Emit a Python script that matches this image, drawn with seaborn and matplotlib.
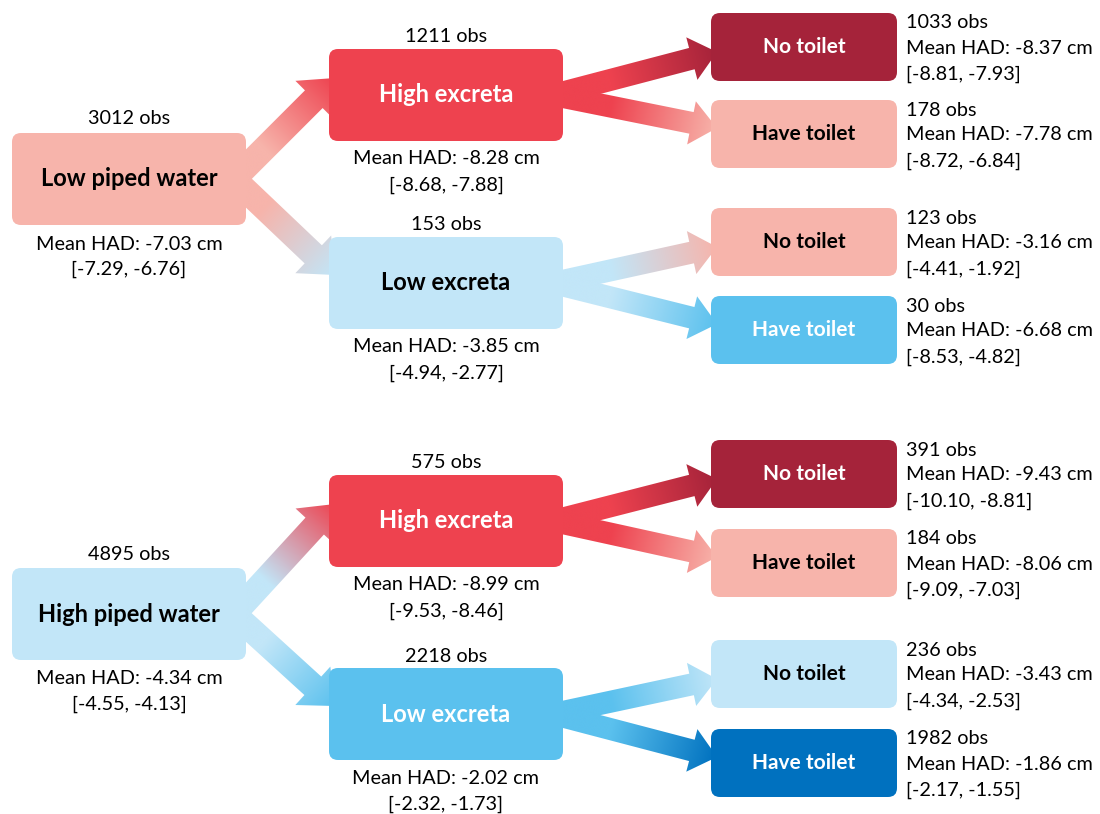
import numpy as np
import matplotlib
matplotlib.use('Agg')
import matplotlib.pyplot as plt
from matplotlib.patches import FancyBboxPatch, Polygon
from matplotlib.colors import LinearSegmentedColormap
import seaborn as sns

sns.set_theme(style='white')
plt.rcParams['font.family'] = ['Lato', 'DejaVu Sans']
plt.rcParams['text.color'] = 'black'

# ── Data ──────────────────────────────────────────────────────────────────────
root_names = ['Low piped water', 'High piped water']
root_obs = [3012, 4895]
root_mean = [-7.03, -4.34]
root_ci_low = [-7.29, -4.55]
root_ci_high = [-6.76, -4.13]

mid_names = ['High excreta', 'Low excreta']
mid_obs = [[1211, 153], [575, 2218]]
mid_mean = [[-8.28, -3.85], [-8.99, -2.02]]
mid_ci_low = [[-8.68, -4.94], [-9.53, -2.32]]
mid_ci_high = [[-7.88, -2.77], [-8.46, -1.73]]

leaf_names = ['No toilet', 'Have toilet']
leaf_obs = [[[1033, 178], [123, 30]], [[391, 184], [236, 1982]]]
leaf_mean = [[[-8.37, -7.78], [-3.16, -6.68]], [[-9.43, -8.06], [-3.43, -1.86]]]
leaf_ci_low = [[[-8.81, -8.72], [-4.41, -8.53]], [[-10.10, -9.09], [-4.34, -2.17]]]
leaf_ci_high = [[[-7.93, -6.84], [-1.92, -4.82]], [[-8.81, -7.03], [-2.53, -1.55]]]

# colour class of every node
root_cls = ['pink', 'lblue']
mid_cls = [['red', 'lblue'], ['red', 'mblue']]
leaf_cls = [[['dred', 'pink'], ['pink', 'mblue']], [['dred', 'pink'], ['lblue', 'dblue']]]

# ── Style ─────────────────────────────────────────────────────────────────────
COL = {'pink': '#F7B4AB', 'red': '#EE424F', 'dred': '#A5233A',
       'lblue': '#C2E6F8', 'mblue': '#5BC1EE', 'dblue': '#0071BF'}
TXT = {'pink': 'black', 'lblue': 'black', 'red': 'white', 'dred': 'white',
       'mblue': 'white', 'dblue': 'white'}

# layout in pixel units (y grows downward)
X_ROOT, X_MID, X_LEAF = 129, 446, 804
W_ROOT, H_ROOT = 234, 92
W_MID, H_MID = 234, 92
W_LEAF, H_LEAF = 186, 68
Y_ROOT = [179, 614]
Y_MID = [[95, 283], [521, 714]]
Y_LEAF = [[[47, 134], [242, 330]], [[474, 563], [674, 763]]]

FS_NUM = 14.3
FS_BOX = 17
FS_LEAF = 15


def box(ax, cx, cy, w, h, cls):
    ax.add_patch(FancyBboxPatch((cx - w / 2, cy - h / 2), w, h,
                                boxstyle='round,pad=0,rounding_size=9',
                                fc=COL[cls], ec='none', zorder=5))


def grad_arrow(ax, p0, p1, c0, c1, w, hw, hl, start=0.3):
    p0 = np.array(p0, float); p1 = np.array(p1, float)
    d = p1 - p0; L = np.hypot(*d); u = d / L; n = np.array([-u[1], u[0]])
    b = p1 - u * hl
    pts = [p0 + n * w / 2, b + n * w / 2, b + n * hw / 2, p1,
           b - n * hw / 2, b - n * w / 2, p0 - n * w / 2]
    poly = Polygon(pts, closed=True, fc='none', ec='none')
    ax.add_patch(poly)
    xs = [p[0] for p in pts]; ys = [p[1] for p in pts]
    x0, x1, y0, y1 = min(xs) - 2, max(xs) + 2, min(ys) - 2, max(ys) + 2
    gx, gy = np.meshgrid(np.linspace(x0, x1, 300), np.linspace(y0, y1, 300))
    t = ((gx - p0[0]) * u[0] + (gy - p0[1]) * u[1]) / L
    t = np.clip((t - start) / (1 - start), 0, 1)
    cmap = LinearSegmentedColormap.from_list('g', sns.blend_palette([c0, c1], 64))
    im = ax.imshow(t, cmap=cmap, vmin=0, vmax=1, extent=(x0, x1, y0, y1),
                   origin='lower', aspect='auto', zorder=2, interpolation='bilinear')
    im.set_clip_path(poly)


fig = plt.figure(figsize=(11, 8.14), dpi=100)
ax = fig.add_axes([0, 0, 1, 1])

for i in range(2):
    rc = root_cls[i]
    ry = Y_ROOT[i]
    box(ax, X_ROOT, ry, W_ROOT, H_ROOT, rc)
    ax.text(X_ROOT, ry, root_names[i], ha='center', va='center', fontsize=FS_BOX,
            fontweight='bold', color=TXT[rc], zorder=6)
    ax.text(X_ROOT, ry - H_ROOT / 2 - 14, f'{root_obs[i]} obs', ha='center',
            va='center', fontsize=FS_NUM)
    ax.text(X_ROOT, ry + H_ROOT / 2 + 19, f'Mean HAD: {root_mean[i]:.2f} cm',
            ha='center', va='center', fontsize=FS_NUM)
    ax.text(X_ROOT, ry + H_ROOT / 2 + 44, f'[{root_ci_low[i]:.2f}, {root_ci_high[i]:.2f}]',
            ha='center', va='center', fontsize=FS_NUM)

    for j in range(2):
        mc = mid_cls[i][j]
        my = Y_MID[i][j]
        tip_y = my - 17 if j == 0 else my - 8
        grad_arrow(ax, (X_ROOT + W_ROOT / 2 - 12, ry), (X_MID - W_MID / 2 + 6, tip_y),
                   COL[rc], COL[mc], 25, 52, 30)
        box(ax, X_MID, my, W_MID, H_MID, mc)
        ax.text(X_MID, my, mid_names[j], ha='center', va='center', fontsize=FS_BOX,
                fontweight='bold', color=TXT[mc], zorder=6)
        ax.text(X_MID, my - H_MID / 2 - 12, f'{mid_obs[i][j]} obs', ha='center',
                va='center', fontsize=FS_NUM)
        ax.text(X_MID, my + H_MID / 2 + 18, f'Mean HAD: {mid_mean[i][j]:.2f} cm',
                ha='center', va='center', fontsize=FS_NUM)
        ax.text(X_MID, my + H_MID / 2 + 44,
                f'[{mid_ci_low[i][j]:.2f}, {mid_ci_high[i][j]:.2f}]',
                ha='center', va='center', fontsize=FS_NUM)

        for k in range(2):
            lc = leaf_cls[i][j][k]
            ly = Y_LEAF[i][j][k]
            tip_y = ly + 5 if k == 0 else ly - 6
            grad_arrow(ax, (X_MID + W_MID / 2 - 10, my), (X_LEAF - W_LEAF / 2 + 6, tip_y),
                       COL[mc], COL[lc], 22, 44, 26, start=0.35)
            box(ax, X_LEAF, ly, W_LEAF, H_LEAF, lc)
            ax.text(X_LEAF, ly, leaf_names[k], ha='center', va='center',
                    fontsize=FS_LEAF, fontweight='bold', color=TXT[lc], zorder=6)
            tx = X_LEAF + W_LEAF / 2 + 9
            ax.text(tx, ly - 24, f'{leaf_obs[i][j][k]} obs', ha='left', va='center',
                    fontsize=FS_NUM)
            ax.text(tx, ly + 1, f'Mean HAD: {leaf_mean[i][j][k]:.2f} cm', ha='left',
                    va='center', fontsize=FS_NUM)
            ax.text(tx, ly + 27,
                    f'[{leaf_ci_low[i][j][k]:.2f}, {leaf_ci_high[i][j][k]:.2f}]',
                    ha='left', va='center', fontsize=FS_NUM)

ax.set_xlim(0, 1100)
ax.set_ylim(814, 0)
ax.axis('off')
fig.savefig('out.png', dpi=100, facecolor='white')
